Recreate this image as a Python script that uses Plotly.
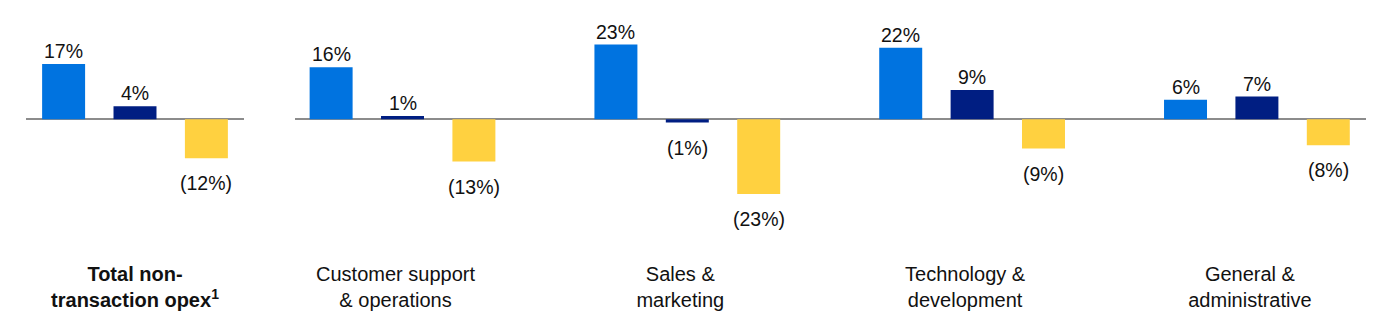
import plotly.graph_objects as go

# ---------------- data ----------------
categories = [
    "Total non-transaction opex",
    "Customer support & operations",
    "Sales & marketing",
    "Technology & development",
    "General & administrative",
]
tick_labels = [
    "<b>Total non-<br>transaction opex<sup>1</sup></b>",
    "Customer support<br>& operations",
    "Sales &<br>marketing",
    "Technology &<br>development",
    "General &<br>administrative",
]
series_names = ["Series 1", "Series 2", "Series 3"]
series_blue = [17, 16, 23, 22, 6]
series_navy = [4, 1, -1, 9, 7]
series_yellow = [-12, -13, -23, -9, -8]

# ---------------- style ----------------
colors = ["#0073E0", "#001E82", "#FFD140"]
W, H = 1386, 328
FONT = "Liberation Sans, Arial, sans-serif"
TXT = "#111111"

# pixel geometry of the two panels
p1 = (26, 244)      # left panel (total)
p2 = (295, 1366)    # right panel (breakdown)
unit_px = 284.8     # pixels per category
bargap = 0.248
bargroupgap = 0.398
r1 = (p1[1] - p1[0]) / unit_px / 2
r2_left = 0.3775
r2_right = (p2[1] - p2[0]) / unit_px - r2_left

y_range = [-43.3, 36.7]
margin_b = 68


def fmt(v):
    return f"{v}%" if v >= 0 else f"({abs(v)}%)"


series = [series_blue, series_navy, series_yellow]
fig = go.Figure()
for j, vals in enumerate(series):
    fig.add_trace(go.Bar(
        x=categories[:1], y=vals[:1], name=series_names[j],
        marker=dict(color=colors[j], line=dict(width=0)),
        xaxis="x", yaxis="y", showlegend=False, offsetgroup=str(j),
    ))
    fig.add_trace(go.Bar(
        x=categories[1:], y=vals[1:], name=series_names[j],
        marker=dict(color=colors[j], line=dict(width=0)),
        xaxis="x2", yaxis="y2", showlegend=False, offsetgroup=str(j),
    ))

slot_px = unit_px * (1 - bargap) / 3
annotations = []
for j, vals in enumerate(series):
    for i, (c, v) in enumerate(zip(categories, vals)):
        ax = "x" if i == 0 else "x2"
        ay = "y" if i == 0 else "y2"
        annotations.append(dict(
            x=c, y=v, xref=ax, yref=ay, text=fmt(v), showarrow=False,
            xshift=(j - 1) * slot_px,
            yshift=0 if v >= 0 else -12,
            yanchor="bottom" if v >= 0 else "top",
            font=dict(family=FONT, size=19.5, color=TXT),
        ))

xcommon = dict(type="category", showgrid=False, showline=False, zeroline=False,
               ticks="", tickfont=dict(family=FONT, size=20, color=TXT))
ycommon = dict(range=y_range, showgrid=False, showline=False, showticklabels=False,
               zeroline=True, zerolinecolor="#8C8C8C", zerolinewidth=1.5)

fig.update_layout(
    width=W, height=H,
    margin=dict(l=0, r=0, t=0, b=margin_b),
    paper_bgcolor="white", plot_bgcolor="white",
    barmode="group", bargap=bargap, bargroupgap=bargroupgap,
    xaxis=dict(**xcommon, domain=[p1[0] / W, p1[1] / W], range=[-r1, r1],
               tickvals=categories[:1], ticktext=tick_labels[:1], anchor="y"),
    xaxis2=dict(**xcommon, domain=[p2[0] / W, p2[1] / W], range=[-r2_left, r2_right],
                tickvals=categories[1:], ticktext=tick_labels[1:], anchor="y2",
                ticklabelshift=-7),
    yaxis=dict(**ycommon, anchor="x"),
    yaxis2=dict(**ycommon, anchor="x2"),
    annotations=annotations,
)

fig.write_html("out.html")
